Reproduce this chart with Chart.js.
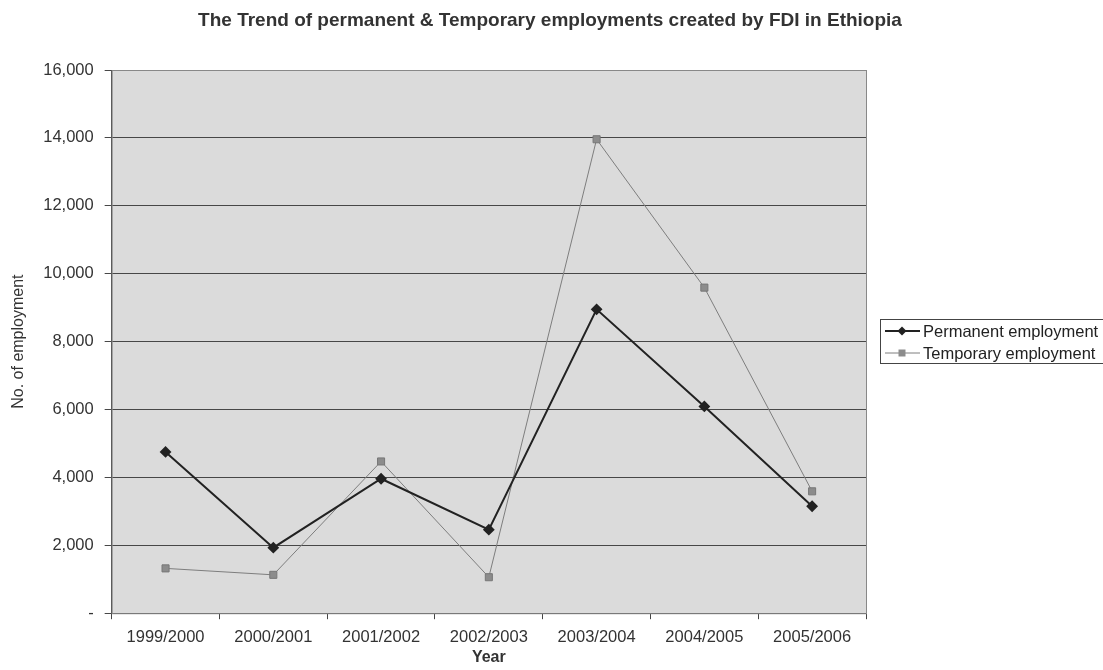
<!DOCTYPE html>
<html lang="en">
<head>
    <meta charset="UTF-8">
    <title>FDI employment in Ethiopia</title>
    <style>
        * { margin: 0; padding: 0; box-sizing: border-box; }
        body { background: #fff; width: 1103px; height: 670px; overflow: hidden; }
        .chart-container { position: relative; width: 1103px; height: 670px; }
    </style>
    <script src="https://cdn.jsdelivr.net/npm/chart.js"></script>
</head>
<body>
<div class="chart-container">
    <canvas id="fdiChart"></canvas>
</div>
<script>
    // data
    const years = ['1999/2000', '2000/2001', '2001/2002', '2002/2003', '2003/2004', '2004/2005', '2005/2006'];
    const permanentJobs = [4750, 1930, 3960, 2460, 8950, 6090, 3150];
    const temporaryJobs = [1320, 1130, 4470, 1060, 13960, 9590, 3590];
    const seriesNames = ['Permanent employment', 'Temporary employment'];
    const chartTitle = 'The Trend of permanent & Temporary employments created by FDI in Ethiopia';
    const xTitle = 'Year';

    const FONT = 'Liberation Sans, Arial, sans-serif';

    // grey plot background, frame, the title and the x axis title
    const plotArea = {
        id: 'plotArea',
        beforeDraw(chart) {
            const { ctx, chartArea: a } = chart;
            ctx.save();
            ctx.fillStyle = '#dbdbdb';
            ctx.fillRect(a.left, a.top, a.right - a.left, a.bottom - a.top);
            ctx.restore();
        },
        afterDraw(chart) {
            const { ctx, chartArea: a } = chart;
            ctx.save();
            ctx.strokeStyle = '#888';
            ctx.lineWidth = 1;
            ctx.strokeRect(a.left + 0.5, a.top + 0.5, a.right - a.left, a.bottom - a.top);
            ctx.fillStyle = '#333';
            ctx.textAlign = 'center';
            ctx.textBaseline = 'middle';
            ctx.font = 'bold 19px ' + FONT;
            ctx.fillText(chartTitle, 550, 21);
            ctx.font = 'bold 16px ' + FONT;
            ctx.fillText(xTitle, (a.left + a.right) / 2, 658);
            ctx.restore();
        }
    };

    // legend with line + marker samples in a framed box
    const boxLegend = {
        id: 'boxLegend',
        afterDraw(chart) {
            const { ctx } = chart;
            const x = 880, y = 319, w = 240, rowH = 22;
            ctx.save();
            ctx.strokeStyle = '#444';
            ctx.lineWidth = 1;
            ctx.strokeRect(x + 0.5, y + 0.5, w, 44);
            ctx.font = '16.5px ' + FONT;
            ctx.textBaseline = 'middle';
            chart.data.datasets.forEach((ds, i) => {
                const cy = y + 12 + i * rowH;
                ctx.strokeStyle = ds.borderColor;
                ctx.lineWidth = ds.borderWidth;
                ctx.beginPath();
                ctx.moveTo(x + 5, cy);
                ctx.lineTo(x + 40, cy);
                ctx.stroke();
                ctx.fillStyle = ds.pointBackgroundColor;
                ctx.beginPath();
                if (ds.pointStyle === 'rectRot') {
                    ctx.moveTo(x + 22, cy - 4.5);
                    ctx.lineTo(x + 26.5, cy);
                    ctx.lineTo(x + 22, cy + 4.5);
                    ctx.lineTo(x + 17.5, cy);
                    ctx.closePath();
                } else {
                    ctx.rect(x + 18.5, cy - 3.5, 7, 7);
                }
                ctx.fill();
                ctx.fillStyle = '#222';
                ctx.fillText(ds.label, x + 43, cy + 1);
            });
            ctx.restore();
        }
    };

    new Chart(document.getElementById('fdiChart'), {
        type: 'line',
        data: {
            labels: years,
            datasets: [
                {
                    label: seriesNames[0],
                    data: permanentJobs,
                    borderColor: '#222',
                    borderWidth: 2,
                    pointStyle: 'rectRot',
                    pointRadius: 4.5,
                    pointBackgroundColor: '#222',
                    pointBorderColor: '#222',
                    tension: 0
                },
                {
                    label: seriesNames[1],
                    data: temporaryJobs,
                    borderColor: '#7e7e7e',
                    borderWidth: 1,
                    pointStyle: 'rect',
                    pointRadius: 5,
                    pointBackgroundColor: '#8c8c8c',
                    pointBorderColor: '#777',
                    pointBorderWidth: 1,
                    tension: 0
                }
            ]
        },
        options: {
            responsive: true,
            maintainAspectRatio: false,
            animation: false,
            layout: { padding: { top: 70, right: 237, bottom: 15, left: 9 } },
            plugins: {
                legend: { display: false },
                tooltip: { enabled: false },
                title: { display: false }
            },
            scales: {
                x: {
                    offset: true,
                    grid: { offset: true, drawOnChartArea: false, drawTicks: true, tickLength: 6, color: '#444' },
                    border: { color: '#444' },
                    ticks: { color: '#333', font: { family: FONT, size: 16.5 }, padding: 8, maxRotation: 0 }
                },
                y: {
                    min: 0,
                    max: 16000,
                    grid: { color: '#474747', tickLength: 7 },
                    border: { color: '#444' },
                    ticks: {
                        stepSize: 2000,
                        color: '#333',
                        font: { family: FONT, size: 16.5 },
                        padding: 11,
                        callback: v => v === 0 ? '-' : v.toLocaleString('en-US')
                    },
                    title: { display: true, text: 'No. of employment', color: '#333', font: { family: FONT, size: 16 }, padding: { top: 0, bottom: 4 } }
                }
            }
        },
        plugins: [plotArea, boxLegend]
    });
</script>
</body>
</html>
